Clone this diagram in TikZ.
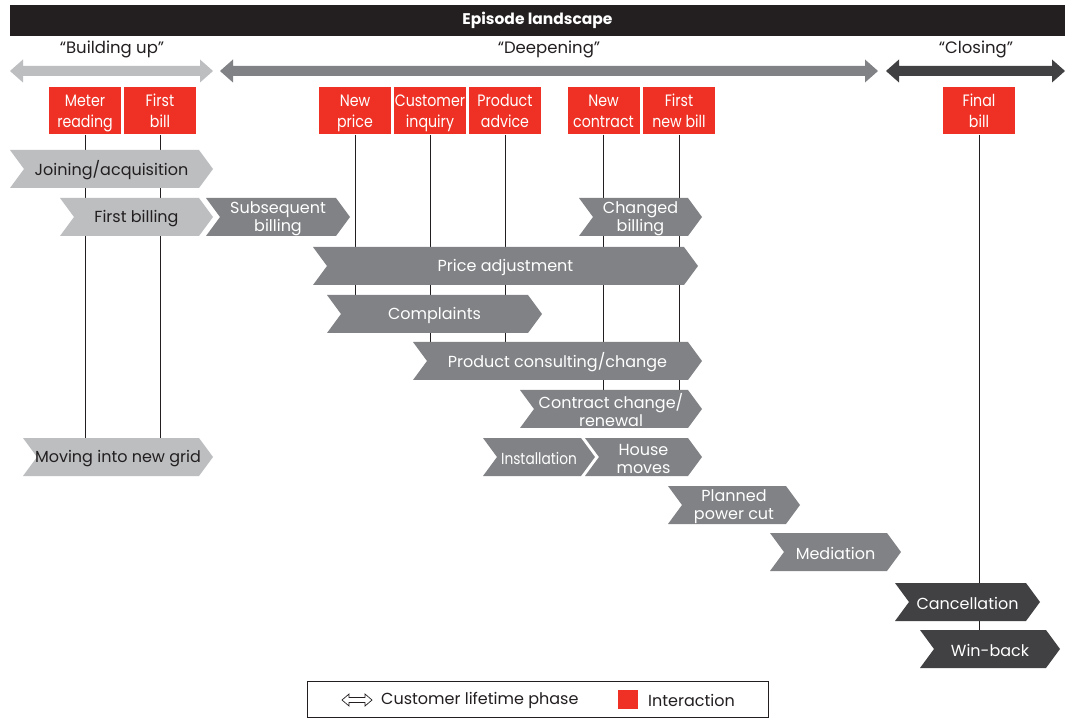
\documentclass[tikz,border=0pt]{standalone}
\usepackage{fontspec}
\setmainfont{Poppins}
\newfontfamily\narrowfont{Poppins}[FakeStretch=0.86]
\definecolor{redI}{HTML}{EE3124}
\definecolor{lgray}{HTML}{BCBEC0}
\definecolor{mgray}{HTML}{808285}
\definecolor{dgray}{HTML}{414042}
\definecolor{ink}{HTML}{231F20}
\pgfdeclarelayer{background}
\pgfsetlayers{background,main}
\tikzset{
  inter/.style={fill=redI, text=white, minimum width=72pt, minimum height=47pt, inner sep=0pt, align=center,
    font=\narrowfont\fontsize{16.5}{21}\selectfont, text height=40.5pt, text depth=6.5pt},
  lbl/.style={align=center, inner sep=0pt, yshift=-1.5pt, font=\fontsize{16}{18}\selectfont},
  phaselbl/.style={inner sep=0pt, text=ink, font=\fontsize{16.5}{18}\selectfont},
  leglbl/.style={inner sep=0pt, text=ink, font=\fontsize{16}{18}\selectfont},
  vline/.style={draw=ink, line width=1pt},
}
% fill, text colour, name, x1, x2, ytop, text
\newcommand\chev[7]{%
  \fill[#1] (#4,#6) -- ({#5-14},#6) -- (#5,{#6+19}) -- ({#5-14},{#6+38}) -- (#4,{#6+38}) -- ({#4+14},{#6+19}) -- cycle;
  \node[lbl, text=#2] (#3) at ({(#4+#5)/2},{#6+19}) {#7};
  \coordinate (#3-top) at ({(#4+#5)/2},#6);
}
% x1, x2, colour
\newcommand\phasearrow[3]{%
  \fill[#3] (#1,71) -- ({#1+13},59.5) -- ({#1+13},66) -- ({#2-13},66) -- ({#2-13},59.5) -- (#2,71) -- ({#2-13},82.5) -- ({#2-13},76) -- ({#1+13},76) -- ({#1+13},82.5) -- cycle;
}
\begin{document}
\begin{tikzpicture}[x=1pt,y=-1pt]
\useasboundingbox (0,0) rectangle (1069,719);
\begin{pgfonlayer}{background}
\fill[white] (0,0) rectangle (1069,719);
\end{pgfonlayer}
% header
\fill[ink] (10,5) rectangle (1065,36);
\node[text=white, inner sep=0pt, font=\bfseries\fontsize{15.5}{18}\selectfont] (title) at (537.5,20.5) {Episode landscape};
% phases
\phasearrow{10}{213}{lgray}
\phasearrow{220}{878}{mgray}
\phasearrow{886}{1065}{dgray}
\node[phaselbl] (p1) at (112,49) {“Building up”};
\node[phaselbl] (p2) at (549,49) {“Deepening”};
\node[phaselbl] (p3) at (976,49) {“Closing”};
% interactions
\node[inter] (mr) at (85,111) {Meter\\reading};
\node[inter] (fb) at (160,111) {First\\bill};
\node[inter] (np) at (355,111) {New\\price};
\node[inter] (ci) at (430,111) {Customer\\inquiry};
\node[inter] (pa) at (505,111) {Product\\advice};
\node[inter] (nc) at (603.5,111) {New\\contract};
\node[inter] (fnb) at (679,111) {First\\new bill};
\node[inter] (fin) at (979,111) {Final\\bill};
% chevrons
\chev{lgray}{ink}{join}{10}{213}{150}{Joining/acquisition}
\chev{lgray}{ink}{firstb}{60}{213}{198}{First billing}
\chev{mgray}{white}{subb}{206}{350}{198}{Subsequent\\billing}
\chev{mgray}{white}{chb}{579}{702}{198}{Changed\\billing}
\chev{mgray}{white}{price}{313}{698}{247}{Price adjustment}
\chev{mgray}{white}{compl}{327}{542}{295}{Complaints}
\chev{mgray}{white}{prod}{413}{702}{342}{Product consulting/change}
\chev{mgray}{white}{contr}{520}{702}{390}{Contract change/\\renewal}
\chev{lgray}{ink}{move}{23}{213}{438}{Moving into new grid}
\chev{mgray}{white}{inst}{483}{595}{438}{\narrowfont Installation}
\chev{mgray}{white}{house}{585}{702}{438}{House\\moves}
\chev{mgray}{white}{cut}{668}{800}{486}{Planned\\power cut}
\chev{mgray}{white}{med}{770}{901}{533}{Mediation}
\chev{dgray}{white}{canc}{895}{1040}{583}{Cancellation}
\chev{dgray}{white}{win}{920}{1060}{630}{Win-back}
% vertical lines
\begin{pgfonlayer}{background}
\draw[vline] (mr.south) -- (mr.south |- move-top);
\draw[vline] (fb.south) -- (fb.south |- move-top);
\draw[vline] (np.south) -- (np.south |- compl-top);
\draw[vline] (ci.south) -- (ci.south |- prod-top);
\draw[vline] (pa.south) -- (pa.south |- prod-top);
\draw[vline] (nc.south) -- (nc.south |- contr-top);
\draw[vline] (fnb.south) -- (fnb.south |- contr-top);
\draw[vline] (fin.south) -- (fin.south |- win-top);
\end{pgfonlayer}
% legend
\draw[ink, line width=0.8pt] (307,681) rectangle (768,717);
\draw[ink, line width=0.7pt, line join=miter] (342,700) -- (349,694) -- (349,697.5) -- (365,697.5) -- (365,694) -- (372,700) -- (365,706) -- (365,702.5) -- (349,702.5) -- (349,706) -- cycle;
\node[leglbl, anchor=west] (leg1) at (381,700) {Customer lifetime phase};
\fill[redI] (618,690) rectangle (638,709);
\node[leglbl, anchor=west] (leg2) at (648,700) {Interaction};
\end{tikzpicture}
\end{document}
